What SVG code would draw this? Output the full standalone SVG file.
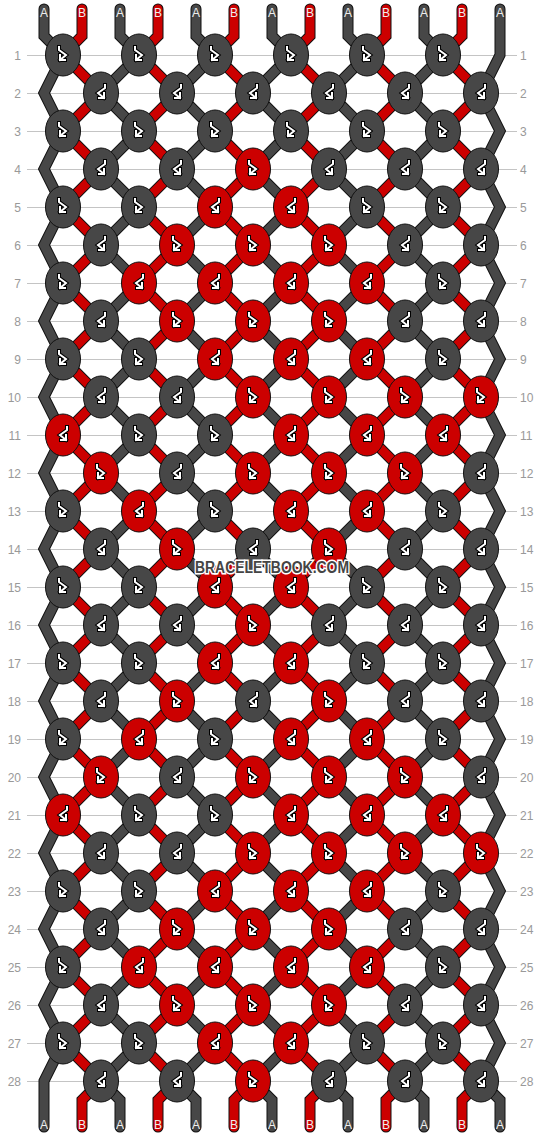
<svg xmlns="http://www.w3.org/2000/svg" width="544" height="1136" viewBox="0 0 544 1136">
<style>
.bg{fill:#fff}
.grid{stroke:#c4c4c4;stroke-width:1;fill:none}
.rn{font-family:"Liberation Sans",Arial,sans-serif;font-size:12px;fill:#999}
.rl{text-anchor:end}
.sl{font-family:"Liberation Sans",Arial,sans-serif;font-size:12px;fill:#eee;text-anchor:middle}
.so{stroke:#111;stroke-width:11;fill:none;stroke-linecap:round;stroke-linejoin:miter}
.sg{stroke:#474747;stroke-width:9;fill:none;stroke-linecap:round;stroke-linejoin:miter}
.sr{stroke:#cc0000;stroke-width:9;fill:none;stroke-linecap:round;stroke-linejoin:miter}
.ao{stroke:#000;stroke-width:4;fill:none;stroke-linejoin:miter;stroke-linecap:square}
.aw{stroke:#fff;stroke-width:2;fill:none;stroke-linejoin:miter;stroke-linecap:square}
.wm{font-family:"Liberation Sans",Arial,sans-serif;font-weight:bold;font-size:16px;fill:#454545;stroke:#fff;stroke-width:3;paint-order:stroke;text-anchor:middle}
</style>
<defs>
<ellipse id="e" rx="17.5" ry="21" stroke="#111" stroke-width="1"/>
<g id="fb"><path class="ao" d="M-4,-8V-5L3,0L-3,5M-3,0V5H2"/><path class="aw" d="M-4,-8V-5L3,0L-3,5M-3,0V5H2"/></g>
<g id="bf"><path class="ao" d="M4,-8V-5L-3,0L3,5M3,0V5H-2"/><path class="aw" d="M4,-8V-5L-3,0L3,5M3,0V5H-2"/></g>
<g id="gf"><use href="#e" fill="#474747"/><use href="#fb"/></g>
<g id="gb"><use href="#e" fill="#474747"/><use href="#bf"/></g>
<g id="rf"><use href="#e" fill="#cc0000"/><use href="#fb"/></g>
<g id="rb"><use href="#e" fill="#cc0000"/><use href="#bf"/></g>
<path id="pA" d="M0,9 V36 l19,19
l-38,38 l38,38
l-38,38 l38,38
l-38,38 l38,38
l-38,38 l38,38
l-38,38 l38,38
l-38,38 l38,38
l-38,38 l38,38
l-38,38 l38,38
l-38,38 l38,38
l-38,38 l38,38
l-38,38 l38,38
l-38,38 l38,38
l-38,38 l38,38
l-38,38 l19,19 V1127"/>
<path id="pB" d="M0,9 V36 l-19,19
l38,38 l-38,38
l38,38 l-38,38
l38,38 l-38,38
l38,38 l-38,38
l38,38 l-38,38
l38,38 l-38,38
l38,38 l-38,38
l38,38 l-38,38
l38,38 l-38,38
l38,38 l-38,38
l38,38 l-38,38
l38,38 l-38,38
l38,38 l-38,38
l38,38 l-19,19 V1127"/>
<path id="p0" d="M44,9 V36 l19,19
l-19,38 l19,38
l-19,38 l19,38
l-19,38 l19,38
l-19,38 l19,38
l-19,38 l19,38
l-19,38 l19,38
l-19,38 l19,38
l-19,38 l19,38
l-19,38 l19,38
l-19,38 l19,38
l-19,38 l19,38
l-19,38 l19,38
l-19,38 l19,38
l-19,38 V1127"/>
<path id="p12" d="M500,9 V55
l-19,38 l19,38
l-19,38 l19,38
l-19,38 l19,38
l-19,38 l19,38
l-19,38 l19,38
l-19,38 l19,38
l-19,38 l19,38
l-19,38 l19,38
l-19,38 l19,38
l-19,38 l19,38
l-19,38 l19,38
l-19,38 l19,38
l-19,38 l19,38
l-19,38 l19,19 V1127"/>
</defs>
<rect class="bg" x="0" y="0" width="544" height="1136"/>
<g id="grid">
<path class="grid" d="M27,55.5H517M27,93.5H517M27,131.5H517M27,169.5H517M27,207.5H517M27,245.5H517M27,283.5H517M27,321.5H517M27,359.5H517M27,397.5H517M27,435.5H517M27,473.5H517M27,511.5H517M27,549.5H517M27,587.5H517M27,625.5H517M27,663.5H517M27,701.5H517M27,739.5H517M27,777.5H517M27,815.5H517M27,853.5H517M27,891.5H517M27,929.5H517M27,967.5H517M27,1005.5H517M27,1043.5H517M27,1081.5H517"/>
<g class="rn rl">
<text x="21" y="60">1</text><text x="21" y="98">2</text><text x="21" y="136">3</text><text x="21" y="174">4</text><text x="21" y="212">5</text><text x="21" y="250">6</text><text x="21" y="288">7</text><text x="21" y="326">8</text><text x="21" y="364">9</text><text x="21" y="402">10</text><text x="21" y="440">11</text><text x="21" y="478">12</text><text x="21" y="516">13</text><text x="21" y="554">14</text><text x="21" y="592">15</text><text x="21" y="630">16</text><text x="21" y="668">17</text><text x="21" y="706">18</text><text x="21" y="744">19</text><text x="21" y="782">20</text><text x="21" y="820">21</text><text x="21" y="858">22</text><text x="21" y="896">23</text><text x="21" y="934">24</text><text x="21" y="972">25</text><text x="21" y="1010">26</text><text x="21" y="1048">27</text><text x="21" y="1086">28</text>
</g>
<g class="rn">
<text x="520" y="60">1</text><text x="520" y="98">2</text><text x="520" y="136">3</text><text x="520" y="174">4</text><text x="520" y="212">5</text><text x="520" y="250">6</text><text x="520" y="288">7</text><text x="520" y="326">8</text><text x="520" y="364">9</text><text x="520" y="402">10</text><text x="520" y="440">11</text><text x="520" y="478">12</text><text x="520" y="516">13</text><text x="520" y="554">14</text><text x="520" y="592">15</text><text x="520" y="630">16</text><text x="520" y="668">17</text><text x="520" y="706">18</text><text x="520" y="744">19</text><text x="520" y="782">20</text><text x="520" y="820">21</text><text x="520" y="858">22</text><text x="520" y="896">23</text><text x="520" y="934">24</text><text x="520" y="972">25</text><text x="520" y="1010">26</text><text x="520" y="1048">27</text><text x="520" y="1086">28</text>
</g>
</g>
<g id="connectors">
<use href="#p0" class="so"/><use href="#pB" x="82" class="so"/><use href="#pA" x="120" class="so"/><use href="#pB" x="158" class="so"/><use href="#pA" x="196" class="so"/><use href="#pB" x="234" class="so"/><use href="#pA" x="272" class="so"/><use href="#pB" x="310" class="so"/><use href="#pA" x="348" class="so"/><use href="#pB" x="386" class="so"/><use href="#pA" x="424" class="so"/><use href="#pB" x="462" class="so"/><use href="#p12" class="so"/>
<use href="#p0" class="sg"/><use href="#pB" x="82" class="sr"/><use href="#pA" x="120" class="sg"/><use href="#pB" x="158" class="sr"/><use href="#pA" x="196" class="sg"/><use href="#pB" x="234" class="sr"/><use href="#pA" x="272" class="sg"/><use href="#pB" x="310" class="sr"/><use href="#pA" x="348" class="sg"/><use href="#pB" x="386" class="sr"/><use href="#pA" x="424" class="sg"/><use href="#pB" x="462" class="sr"/><use href="#p12" class="sg"/>
</g>
<g id="string-labels" class="sl">
<text x="44" y="17">A</text><text x="82" y="17">B</text><text x="120" y="17">A</text><text x="158" y="17">B</text><text x="196" y="17">A</text><text x="234" y="17">B</text><text x="272" y="17">A</text><text x="310" y="17">B</text><text x="348" y="17">A</text><text x="386" y="17">B</text><text x="424" y="17">A</text><text x="462" y="17">B</text><text x="500" y="17">A</text>
<text x="44" y="1129">A</text><text x="82" y="1129">B</text><text x="120" y="1129">A</text><text x="158" y="1129">B</text><text x="196" y="1129">A</text><text x="234" y="1129">B</text><text x="272" y="1129">A</text><text x="310" y="1129">B</text><text x="348" y="1129">A</text><text x="386" y="1129">B</text><text x="424" y="1129">A</text><text x="462" y="1129">B</text><text x="500" y="1129">A</text>
</g>
<g id="knots">
<g id="k1-1"><use href="#gf" x="63" y="55"/></g><g id="k1-2"><use href="#gf" x="139" y="55"/></g><g id="k1-3"><use href="#gf" x="215" y="55"/></g><g id="k1-4"><use href="#gf" x="291" y="55"/></g><g id="k1-5"><use href="#gf" x="367" y="55"/></g><g id="k1-6"><use href="#gf" x="443" y="55"/></g>
<g id="k2-1"><use href="#gb" x="101" y="93"/></g><g id="k2-2"><use href="#gb" x="177" y="93"/></g><g id="k2-3"><use href="#gb" x="253" y="93"/></g><g id="k2-4"><use href="#gb" x="329" y="93"/></g><g id="k2-5"><use href="#gb" x="405" y="93"/></g><g id="k2-6"><use href="#gb" x="481" y="93"/></g>
<g id="k3-1"><use href="#gf" x="63" y="131"/></g><g id="k3-2"><use href="#gf" x="139" y="131"/></g><g id="k3-3"><use href="#gf" x="215" y="131"/></g><g id="k3-4"><use href="#gf" x="291" y="131"/></g><g id="k3-5"><use href="#gf" x="367" y="131"/></g><g id="k3-6"><use href="#gf" x="443" y="131"/></g>
<g id="k4-1"><use href="#gb" x="101" y="169"/></g><g id="k4-2"><use href="#gb" x="177" y="169"/></g><g id="k4-3"><use href="#rf" x="253" y="169"/></g><g id="k4-4"><use href="#gb" x="329" y="169"/></g><g id="k4-5"><use href="#gb" x="405" y="169"/></g><g id="k4-6"><use href="#gb" x="481" y="169"/></g>
<g id="k5-1"><use href="#gf" x="63" y="207"/></g><g id="k5-2"><use href="#gf" x="139" y="207"/></g><g id="k5-3"><use href="#rb" x="215" y="207"/></g><g id="k5-4"><use href="#rb" x="291" y="207"/></g><g id="k5-5"><use href="#gf" x="367" y="207"/></g><g id="k5-6"><use href="#gf" x="443" y="207"/></g>
<g id="k6-1"><use href="#gb" x="101" y="245"/></g><g id="k6-2"><use href="#rf" x="177" y="245"/></g><g id="k6-3"><use href="#rf" x="253" y="245"/></g><g id="k6-4"><use href="#rf" x="329" y="245"/></g><g id="k6-5"><use href="#gb" x="405" y="245"/></g><g id="k6-6"><use href="#gb" x="481" y="245"/></g>
<g id="k7-1"><use href="#gf" x="63" y="283"/></g><g id="k7-2"><use href="#rb" x="139" y="283"/></g><g id="k7-3"><use href="#rb" x="215" y="283"/></g><g id="k7-4"><use href="#rb" x="291" y="283"/></g><g id="k7-5"><use href="#rb" x="367" y="283"/></g><g id="k7-6"><use href="#gf" x="443" y="283"/></g>
<g id="k8-1"><use href="#gb" x="101" y="321"/></g><g id="k8-2"><use href="#rf" x="177" y="321"/></g><g id="k8-3"><use href="#rf" x="253" y="321"/></g><g id="k8-4"><use href="#rf" x="329" y="321"/></g><g id="k8-5"><use href="#gb" x="405" y="321"/></g><g id="k8-6"><use href="#gb" x="481" y="321"/></g>
<g id="k9-1"><use href="#gf" x="63" y="359"/></g><g id="k9-2"><use href="#gf" x="139" y="359"/></g><g id="k9-3"><use href="#rb" x="215" y="359"/></g><g id="k9-4"><use href="#rb" x="291" y="359"/></g><g id="k9-5"><use href="#rb" x="367" y="359"/></g><g id="k9-6"><use href="#gf" x="443" y="359"/></g>
<g id="k10-1"><use href="#gb" x="101" y="397"/></g><g id="k10-2"><use href="#gb" x="177" y="397"/></g><g id="k10-3"><use href="#rf" x="253" y="397"/></g><g id="k10-4"><use href="#rf" x="329" y="397"/></g><g id="k10-5"><use href="#rf" x="405" y="397"/></g><g id="k10-6"><use href="#rf" x="481" y="397"/></g>
<g id="k11-1"><use href="#rb" x="63" y="435"/></g><g id="k11-2"><use href="#gf" x="139" y="435"/></g><g id="k11-3"><use href="#gf" x="215" y="435"/></g><g id="k11-4"><use href="#rb" x="291" y="435"/></g><g id="k11-5"><use href="#rb" x="367" y="435"/></g><g id="k11-6"><use href="#rb" x="443" y="435"/></g>
<g id="k12-1"><use href="#rf" x="101" y="473"/></g><g id="k12-2"><use href="#gb" x="177" y="473"/></g><g id="k12-3"><use href="#rf" x="253" y="473"/></g><g id="k12-4"><use href="#rf" x="329" y="473"/></g><g id="k12-5"><use href="#rf" x="405" y="473"/></g><g id="k12-6"><use href="#gb" x="481" y="473"/></g>
<g id="k13-1"><use href="#gf" x="63" y="511"/></g><g id="k13-2"><use href="#rb" x="139" y="511"/></g><g id="k13-3"><use href="#gf" x="215" y="511"/></g><g id="k13-4"><use href="#rb" x="291" y="511"/></g><g id="k13-5"><use href="#rb" x="367" y="511"/></g><g id="k13-6"><use href="#gf" x="443" y="511"/></g>
<g id="k14-1"><use href="#gb" x="101" y="549"/></g><g id="k14-2"><use href="#rf" x="177" y="549"/></g><g id="k14-3"><use href="#gb" x="253" y="549"/></g><g id="k14-4"><use href="#rf" x="329" y="549"/></g><g id="k14-5"><use href="#gb" x="405" y="549"/></g><g id="k14-6"><use href="#gb" x="481" y="549"/></g>
<g id="k15-1"><use href="#gf" x="63" y="587"/></g><g id="k15-2"><use href="#gf" x="139" y="587"/></g><g id="k15-3"><use href="#rb" x="215" y="587"/></g><g id="k15-4"><use href="#rb" x="291" y="587"/></g><g id="k15-5"><use href="#gf" x="367" y="587"/></g><g id="k15-6"><use href="#gf" x="443" y="587"/></g>
<g id="k16-1"><use href="#gb" x="101" y="625"/></g><g id="k16-2"><use href="#gb" x="177" y="625"/></g><g id="k16-3"><use href="#rf" x="253" y="625"/></g><g id="k16-4"><use href="#gb" x="329" y="625"/></g><g id="k16-5"><use href="#gb" x="405" y="625"/></g><g id="k16-6"><use href="#gb" x="481" y="625"/></g>
<g id="k17-1"><use href="#gf" x="63" y="663"/></g><g id="k17-2"><use href="#gf" x="139" y="663"/></g><g id="k17-3"><use href="#rb" x="215" y="663"/></g><g id="k17-4"><use href="#rb" x="291" y="663"/></g><g id="k17-5"><use href="#gf" x="367" y="663"/></g><g id="k17-6"><use href="#gf" x="443" y="663"/></g>
<g id="k18-1"><use href="#gb" x="101" y="701"/></g><g id="k18-2"><use href="#rf" x="177" y="701"/></g><g id="k18-3"><use href="#gb" x="253" y="701"/></g><g id="k18-4"><use href="#rf" x="329" y="701"/></g><g id="k18-5"><use href="#gb" x="405" y="701"/></g><g id="k18-6"><use href="#gb" x="481" y="701"/></g>
<g id="k19-1"><use href="#gf" x="63" y="739"/></g><g id="k19-2"><use href="#rb" x="139" y="739"/></g><g id="k19-3"><use href="#gf" x="215" y="739"/></g><g id="k19-4"><use href="#rb" x="291" y="739"/></g><g id="k19-5"><use href="#rb" x="367" y="739"/></g><g id="k19-6"><use href="#gf" x="443" y="739"/></g>
<g id="k20-1"><use href="#rf" x="101" y="777"/></g><g id="k20-2"><use href="#gb" x="177" y="777"/></g><g id="k20-3"><use href="#rf" x="253" y="777"/></g><g id="k20-4"><use href="#rf" x="329" y="777"/></g><g id="k20-5"><use href="#rf" x="405" y="777"/></g><g id="k20-6"><use href="#gb" x="481" y="777"/></g>
<g id="k21-1"><use href="#rb" x="63" y="815"/></g><g id="k21-2"><use href="#gf" x="139" y="815"/></g><g id="k21-3"><use href="#gf" x="215" y="815"/></g><g id="k21-4"><use href="#rb" x="291" y="815"/></g><g id="k21-5"><use href="#rb" x="367" y="815"/></g><g id="k21-6"><use href="#rb" x="443" y="815"/></g>
<g id="k22-1"><use href="#gb" x="101" y="853"/></g><g id="k22-2"><use href="#gb" x="177" y="853"/></g><g id="k22-3"><use href="#rf" x="253" y="853"/></g><g id="k22-4"><use href="#rf" x="329" y="853"/></g><g id="k22-5"><use href="#rf" x="405" y="853"/></g><g id="k22-6"><use href="#rf" x="481" y="853"/></g>
<g id="k23-1"><use href="#gf" x="63" y="891"/></g><g id="k23-2"><use href="#gf" x="139" y="891"/></g><g id="k23-3"><use href="#rb" x="215" y="891"/></g><g id="k23-4"><use href="#rb" x="291" y="891"/></g><g id="k23-5"><use href="#rb" x="367" y="891"/></g><g id="k23-6"><use href="#gf" x="443" y="891"/></g>
<g id="k24-1"><use href="#gb" x="101" y="929"/></g><g id="k24-2"><use href="#rf" x="177" y="929"/></g><g id="k24-3"><use href="#rf" x="253" y="929"/></g><g id="k24-4"><use href="#rf" x="329" y="929"/></g><g id="k24-5"><use href="#gb" x="405" y="929"/></g><g id="k24-6"><use href="#gb" x="481" y="929"/></g>
<g id="k25-1"><use href="#gf" x="63" y="967"/></g><g id="k25-2"><use href="#rb" x="139" y="967"/></g><g id="k25-3"><use href="#rb" x="215" y="967"/></g><g id="k25-4"><use href="#rb" x="291" y="967"/></g><g id="k25-5"><use href="#rb" x="367" y="967"/></g><g id="k25-6"><use href="#gf" x="443" y="967"/></g>
<g id="k26-1"><use href="#gb" x="101" y="1005"/></g><g id="k26-2"><use href="#rf" x="177" y="1005"/></g><g id="k26-3"><use href="#rf" x="253" y="1005"/></g><g id="k26-4"><use href="#rf" x="329" y="1005"/></g><g id="k26-5"><use href="#gb" x="405" y="1005"/></g><g id="k26-6"><use href="#gb" x="481" y="1005"/></g>
<g id="k27-1"><use href="#gf" x="63" y="1043"/></g><g id="k27-2"><use href="#gf" x="139" y="1043"/></g><g id="k27-3"><use href="#rb" x="215" y="1043"/></g><g id="k27-4"><use href="#rb" x="291" y="1043"/></g><g id="k27-5"><use href="#gf" x="367" y="1043"/></g><g id="k27-6"><use href="#gf" x="443" y="1043"/></g>
<g id="k28-1"><use href="#gb" x="101" y="1081"/></g><g id="k28-2"><use href="#gb" x="177" y="1081"/></g><g id="k28-3"><use href="#rf" x="253" y="1081"/></g><g id="k28-4"><use href="#gb" x="329" y="1081"/></g><g id="k28-5"><use href="#gb" x="405" y="1081"/></g><g id="k28-6"><use href="#gb" x="481" y="1081"/></g>
</g>
<text class="wm" x="272" y="573" textLength="154" lengthAdjust="spacingAndGlyphs">BRACELETBOOK.COM</text>
</svg>
